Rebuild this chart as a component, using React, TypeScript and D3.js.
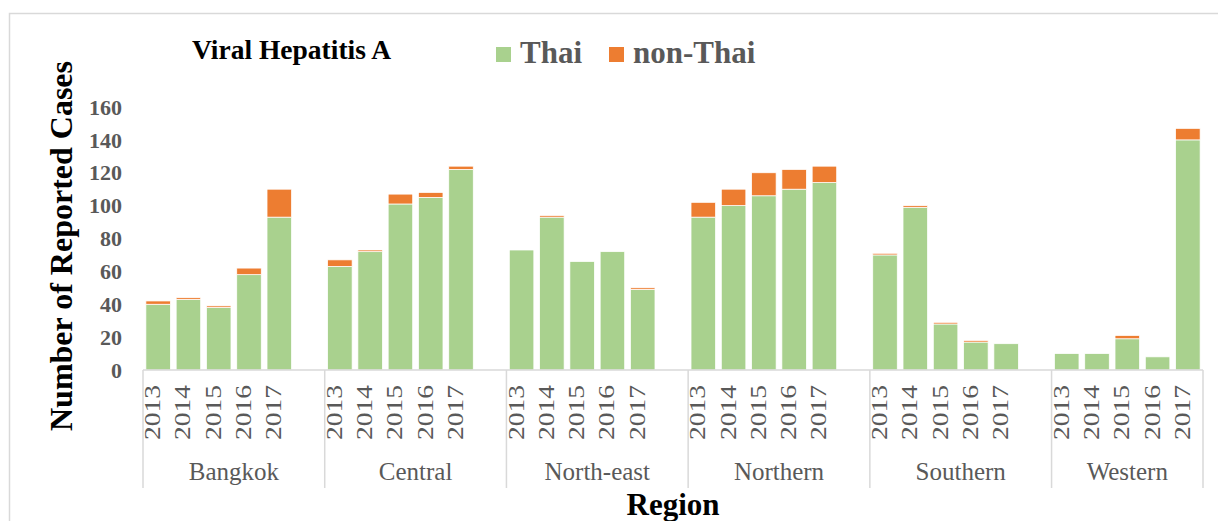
import React, { useRef, useEffect } from "react";
import * as d3 from "d3";

// data
const regions = ["Bangkok", "Central", "North-east", "Northern", "Southern", "Western"];
const years = ["2013", "2014", "2015", "2016", "2017"];
const thaiCases = [
  [40, 43, 38, 58, 93],
  [63, 72, 101, 105, 122],
  [73, 93, 66, 72, 49],
  [93, 100, 106, 110, 114],
  [70, 99, 28, 17, 16],
  [10, 10, 19, 8, 140],
];
const nonThaiCases = [
  [2, 1, 1, 4, 17],
  [4, 1, 6, 3, 2],
  [0, 1, 0, 0, 1],
  [9, 10, 14, 12, 10],
  [1, 1, 1, 1, 0],
  [0, 0, 2, 0, 7],
];
const yTicks = [0, 20, 40, 60, 80, 100, 120, 140, 160];
const seriesNames = ["Thai", "non-Thai"];
const seriesColors = ["#A9D18E", "#ED7D31"];

const FONT = "Liberation Serif, DejaVu Serif, Times New Roman, serif";
const GREY = "#595959";

const App = () => {
  const ref = useRef<SVGSVGElement | null>(null);

  useEffect(() => {
    document.body.style.margin = "0";
    const width = 1218;
    const height = 521;
    const plot = { left: 143, right: 1203, top: 107, bottom: 370 };

    const svg = d3.select(ref.current);
    svg.selectAll("*").remove();
    svg.attr("width", width).attr("height", height).style("font-family", FONT);

    // chart border
    svg
      .append("rect")
      .attr("x", 9.5)
      .attr("y", 13.5)
      .attr("width", 1210)
      .attr("height", 520)
      .attr("fill", "white")
      .attr("stroke", "#D9D9D9")
      .attr("stroke-width", 1.5);

    // slots: 5 years per region plus an empty slot between regions
    const slots: string[] = [];
    regions.forEach((r, i) => {
      years.forEach((y) => slots.push(`${r}|${y}`));
      if (i < regions.length - 1) slots.push(`${r}|gap`);
    });

    const x = d3
      .scaleBand()
      .domain(slots)
      .range([plot.left, plot.right])
      .paddingInner(0.19)
      .paddingOuter(0.095);
    const half = (x.step() - x.bandwidth()) / 2;

    const y = d3.scaleLinear().domain([0, 160]).range([plot.bottom, plot.top]);

    const rows = regions.flatMap((r, i) =>
      years.map((yr, j) => ({
        key: `${r}|${yr}`,
        year: yr,
        thai: thaiCases[i][j],
        non: nonThaiCases[i][j],
      }))
    );

    // bars
    const bars = svg.append("g");
    bars
      .selectAll("rect.thai")
      .data(rows)
      .join("rect")
      .attr("class", "thai")
      .attr("x", (d) => x(d.key)!)
      .attr("width", x.bandwidth())
      .attr("y", (d) => y(d.thai))
      .attr("height", (d) => y(0) - y(d.thai))
      .attr("fill", seriesColors[0])
      .attr("stroke", "#fff")
      .attr("stroke-width", 0.75);
    bars
      .selectAll("rect.non")
      .data(rows.filter((d) => d.non > 0))
      .join("rect")
      .attr("class", "non")
      .attr("x", (d) => x(d.key)!)
      .attr("width", x.bandwidth())
      .attr("y", (d) => y(d.thai + d.non))
      .attr("height", (d) => y(d.thai) - y(d.thai + d.non))
      .attr("fill", seriesColors[1])
      .attr("stroke", "#fff")
      .attr("stroke-width", 0.75);

    // y tick labels
    svg
      .append("g")
      .selectAll("text")
      .data(yTicks)
      .join("text")
      .attr("x", 122)
      .attr("y", (d) => y(d))
      .attr("dy", "0.35em")
      .attr("text-anchor", "end")
      .attr("font-weight", "bold")
      .attr("font-size", 22)
      .attr("fill", GREY)
      .text((d) => d);

    // category axis line and group separators
    const axisG = svg.append("g").attr("stroke", "#D9D9D9").attr("stroke-width", 1.5);
    axisG
      .append("line")
      .attr("x1", plot.left)
      .attr("x2", plot.right)
      .attr("y1", plot.bottom)
      .attr("y2", plot.bottom);
    const sepX = [
      ...regions.map((r) => x(`${r}|${years[0]}`)! - half),
      plot.right,
    ];
    axisG
      .selectAll("line.sep")
      .data(sepX)
      .join("line")
      .attr("class", "sep")
      .attr("x1", (d) => d)
      .attr("x2", (d) => d)
      .attr("y1", plot.bottom)
      .attr("y2", 488);

    // year labels
    svg
      .append("g")
      .selectAll("text")
      .data(rows)
      .join("text")
      .attr("transform", (d) => `translate(${x(d.key)! + x.bandwidth() / 2 + 2},385) rotate(-90)`)
      .attr("text-anchor", "end")
      .attr("font-size", 23)
      .attr("fill", GREY)
      .attr("textLength", 55)
      .attr("lengthAdjust", "spacingAndGlyphs")
      .text((d) => d.year);

    // region labels
    svg
      .append("g")
      .selectAll("text")
      .data(regions)
      .join("text")
      .attr("x", (d, i) => (sepX[i] + sepX[i + 1]) / 2)
      .attr("y", 480)
      .attr("text-anchor", "middle")
      .attr("font-size", 25)
      .attr("fill", GREY)
      .text((d) => d);

    // titles
    svg
      .append("text")
      .attr("x", 192)
      .attr("y", 59)
      .attr("font-weight", "bold")
      .attr("font-size", 27.5)
      .attr("fill", "#000")
      .text("Viral Hepatitis A");

    svg
      .append("text")
      .attr("transform", "translate(72,246) rotate(-90)")
      .attr("text-anchor", "middle")
      .attr("font-weight", "bold")
      .attr("font-size", 32)
      .attr("fill", "#000")
      .text("Number of Reported Cases");

    svg
      .append("text")
      .attr("x", 673)
      .attr("y", 515)
      .attr("text-anchor", "middle")
      .attr("font-weight", "bold")
      .attr("font-size", 31)
      .attr("fill", "#000")
      .text("Region");

    // legend
    const legendX = [496, 609];
    const legend = svg
      .append("g")
      .selectAll("g")
      .data(seriesNames)
      .join("g")
      .attr("transform", (d, i) => `translate(${legendX[i]},0)`);
    legend
      .append("rect")
      .attr("x", 0)
      .attr("y", 47)
      .attr("width", 15)
      .attr("height", 15)
      .attr("fill", (d, i) => seriesColors[i]);
    legend
      .append("text")
      .attr("x", 24)
      .attr("y", 63)
      .attr("font-weight", "bold")
      .attr("font-size", 31)
      .attr("fill", GREY)
      .text((d) => d);
  }, []);

  return <svg ref={ref}></svg>;
};

export default App;
